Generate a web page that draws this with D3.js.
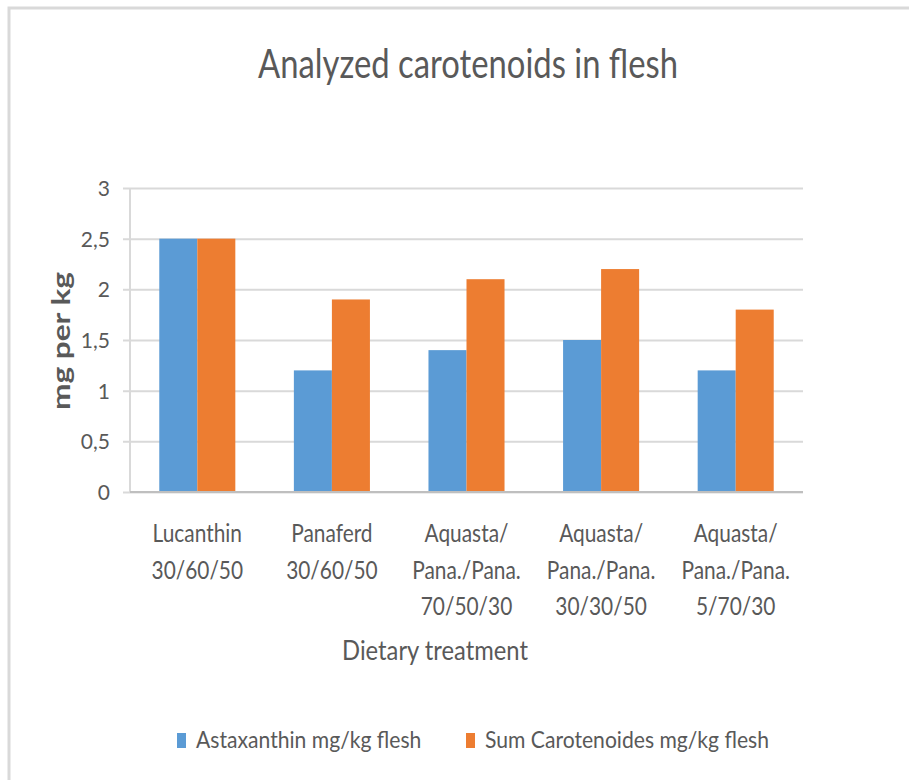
<!DOCTYPE html>
<html lang="en">
<head>
<meta charset="UTF-8">
<script src="https://d3js.org/d3.v7.min.js"></script>
<style>
  body { margin: 0; background: #fff; }
  svg text { font-family: Lato, "Open Sans", sans-serif; fill: #595959; }
</style>
<title>Analyzed carotenoids in flesh</title>
</head>
<body>
<script>
// data
const categories = [
  ["Lucanthin", "30/60/50"],
  ["Panaferd", "30/60/50"],
  ["Aquasta/", "Pana./Pana.", "70/50/30"],
  ["Aquasta/", "Pana./Pana.", "30/30/50"],
  ["Aquasta/", "Pana./Pana.", "5/70/30"]
];
const seriesNames = ["Astaxanthin mg/kg flesh", "Sum Carotenoides mg/kg flesh"];
const astaxanthin = [2.5, 1.2, 1.4, 1.5, 1.2];
const sumCarotenoides = [2.5, 1.9, 2.1, 2.2, 1.8];
const yTicks = [0, 0.5, 1, 1.5, 2, 2.5, 3];
const colors = ["#5b9bd5", "#ed7d31"];

const W = 909, H = 780;
const plot = {left: 130, right: 803, top: 188, bottom: 492};

// the original font is narrower than Lato, so squeeze text horizontally
function squeeze(sel, k) {
  sel.each(function() {
    const w = this.getComputedTextLength();
    d3.select(this)
        .attr("textLength", w * k)
        .attr("lengthAdjust", "spacingAndGlyphs");
  });
}

const svg = d3.select("body").append("svg")
    .attr("width", W)
    .attr("height", H);

// chart frame (only top/left edges fall inside the picture)
svg.append("rect")
    .attr("x", 9).attr("y", 8)
    .attr("width", W + 20).attr("height", H + 20)
    .attr("fill", "#fff")
    .attr("stroke", "#d9d9d9")
    .attr("stroke-width", 3);

const keys = categories.map((c, i) => i);
const x0 = d3.scaleBand()
    .domain(keys)
    .range([plot.left, plot.right])
    .paddingInner(0.435)
    .paddingOuter(0.2175);
const x1 = d3.scaleBand()
    .domain([0, 1])
    .range([0, x0.bandwidth()]);
const y = d3.scaleLinear()
    .domain([0, 3])
    .range([plot.bottom, plot.top]);

const fmt = v => String(v).replace(".", ",");

// gridlines + y tick labels
const yAxis = d3.axisLeft(y)
    .tickValues(yTicks)
    .tickSize(-(plot.right - plot.left))
    .tickSizeOuter(0)
    .tickPadding(20)
    .tickFormat(fmt);
const gy = svg.append("g")
    .attr("transform", `translate(${plot.left},0)`)
    .call(yAxis);
gy.select(".domain").remove();
gy.selectAll(".tick line")
    .attr("x1", -7)
    .attr("stroke", "#d9d9d9")
    .attr("stroke-width", 2);
gy.selectAll(".tick text")
    .style("font-size", "21px")
    .attr("dy", "0.35em");

// y axis line
svg.append("line")
    .attr("x1", plot.left).attr("x2", plot.left)
    .attr("y1", plot.top).attr("y2", plot.bottom)
    .attr("stroke", "#d9d9d9").attr("stroke-width", 2);

// bars
const rows = keys.map(i => [astaxanthin[i], sumCarotenoides[i]]);
svg.append("g").selectAll("g")
  .data(rows)
  .join("g")
    .attr("transform", (d, i) => `translate(${x0(i)},0)`)
  .selectAll("rect")
  .data(d => d)
  .join("rect")
    .attr("x", (d, j) => x1(j))
    .attr("y", d => y(d))
    .attr("width", x1.bandwidth())
    .attr("height", d => y(0) - y(d))
    .attr("fill", (d, j) => colors[j]);

// x axis line
svg.append("line")
    .attr("x1", plot.left).attr("x2", plot.right)
    .attr("y1", plot.bottom).attr("y2", plot.bottom)
    .attr("stroke", "#bfbfbf").attr("stroke-width", 2);

// category labels, one text per line
const labelLines = categories.flatMap((lines, i) => lines.map((t, j) => ({i, j, t})));
svg.append("g").selectAll("text")
  .data(labelLines)
  .join("text")
    .attr("x", d => x0(d.i) + x0.bandwidth() / 2)
    .attr("y", d => 542 + d.j * 36.5)
    .attr("text-anchor", "middle")
    .style("font-size", "25px")
    .text(d => d.t)
    .call(squeeze, 0.835);

// axis titles
svg.append("text")
    .attr("x", 435)
    .attr("y", 660)
    .attr("text-anchor", "middle")
    .style("font-size", "27px")
    .text("Dietary treatment")
    .call(squeeze, 0.88);

svg.append("text")
    .attr("transform", "translate(70,341) rotate(-90)")
    .attr("text-anchor", "middle")
    .style("font-size", "24px")
    .style("font-weight", "bold")
    .attr("textLength", 138)
    .attr("lengthAdjust", "spacingAndGlyphs")
    .text("mg per kg");

// chart title
svg.append("text")
    .attr("x", 468)
    .attr("y", 78)
    .attr("text-anchor", "middle")
    .style("font-size", "41px")
    .text("Analyzed carotenoids in flesh")
    .call(squeeze, 0.8);

// legend
const legendX = [177, 466];
const leg = svg.append("g").selectAll("g")
  .data(seriesNames)
  .join("g")
    .attr("transform", (d, i) => `translate(${legendX[i]},733)`);
leg.append("rect")
    .attr("width", 9).attr("height", 15)
    .attr("fill", (d, i) => colors[i]);
leg.append("text")
    .attr("x", 19).attr("y", 15)
    .style("font-size", "24px")
    .text(d => d)
    .call(squeeze, 0.88);
</script>
</body>
</html>
